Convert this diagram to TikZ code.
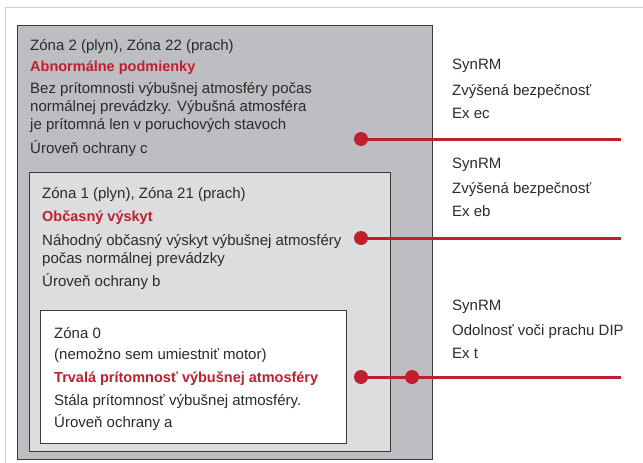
\documentclass[tikz,border=0pt]{standalone}
\usepackage{fontspec}
\setmainfont{Liberation Sans}
\definecolor{txt}{HTML}{2B2B2B}
\definecolor{exred}{HTML}{C01F30}
\definecolor{zonetwo}{HTML}{BDBEC1}
\definecolor{zoneone}{HTML}{DCDDDF}
\definecolor{frame}{HTML}{D4D4D4}
\definecolor{edge}{HTML}{3A3A3A}
\tikzset{
  zonebox/.style={draw=edge, line width=1.2pt},
  tx/.style={anchor=base west, inner sep=0pt, text=txt, font=\fontsize{15}{17}\selectfont},
  hd/.style={tx, text=exred, font=\fontsize{14.5}{17}\selectfont\bfseries},
  dot/.style={circle, fill=exred, inner sep=0pt, minimum size=14pt},
  wire/.style={exred, line width=3pt},
}
\begin{document}
\begin{tikzpicture}[x=1pt,y=-1pt]
\useasboundingbox (0,0) rectangle (643,463);
\fill[white] (0,0) rectangle (643,463);
\draw[frame, line width=1.8pt] (5.5,470) -- (5.5,7.5) -- (650,7.5);
% boxes
\node[zonebox, fill=zonetwo, anchor=north west, minimum width=415pt, minimum height=434pt, inner sep=0pt] (z2) at (17,25) {};
\node[zonebox, fill=zoneone, anchor=north west, minimum width=361pt, minimum height=279pt, inner sep=0pt] (z1) at (29,172) {};
\node[zonebox, fill=white, anchor=north west, minimum width=306pt, minimum height=133pt, inner sep=0pt] (z0) at (40,310) {};
% zone 2 text
\node[tx] (a1) at (30,50) {Zóna 2 (plyn), Zóna 22 (prach)};
\node[hd] (a2) at (30,71) {Abnormálne podmienky};
\node[tx] (a3) at (30,93) {Bez prítomnosti výbušnej atmosféry počas};
\node[tx] (a4) at (30,111) {normálnej prevádzky. Výbušná atmosféra};
\node[tx] (a5) at (30,129) {je prítomná len v poruchových stavoch};
\node[tx] (a6) at (30,153) {Úroveň ochrany c};
% zone 1 text
\node[tx] (b1) at (42,198) {Zóna 1 (plyn), Zóna 21 (prach)};
\node[hd] (b2) at (42,221) {Občasný výskyt};
\node[tx] (b3) at (42,245) {Náhodný občasný výskyt výbušnej atmosféry};
\node[tx] (b4) at (42,263) {počas normálnej prevádzky};
\node[tx] (b5) at (42,286) {Úroveň ochrany b};
% zone 0 text
\node[tx] (c1) at (54,338) {Zóna 0};
\node[tx] (c2) at (54,359) {(nemožno sem umiestniť motor)};
\node[hd] (c3) at (54,382) {Trvalá prítomnosť výbušnej atmosféry};
\node[tx] (c4) at (54,405) {Stála prítomnosť výbušnej atmosféry.};
\node[tx] (c5) at (54,427) {Úroveň ochrany a};
% right texts
\node[tx] (r1) at (452,69) {SynRM};
\node[tx] (r2) at (452,95) {Zvýšená bezpečnosť};
\node[tx] (r3) at (452,118) {Ex ec};
\node[tx] (s1) at (452,168) {SynRM};
\node[tx] (s2) at (452,193) {Zvýšená bezpečnosť};
\node[tx] (s3) at (452,216) {Ex eb};
\node[tx] (t1) at (452,310) {SynRM};
\node[tx] (t2) at (452,335) {Odolnosť voči prachu DIP};
\node[tx] (t3) at (452,358) {Ex t};
% connectors
\node[dot] (d2) at (361,139) {};
\node[dot] (d1) at (361,238) {};
\node[dot] (d0) at (361,377) {};
\node[dot] (d0b) at (412,377) {};
\coordinate (e2) at (621,139);
\coordinate (e1) at (621,238);
\coordinate (e0) at (621,377);
\draw[wire] (d2.center) -- (e2);
\draw[wire] (d1.center) -- (e1);
\draw[wire] (d0.center) -- (d0b.center) -- (e0);
\end{tikzpicture}
\end{document}
